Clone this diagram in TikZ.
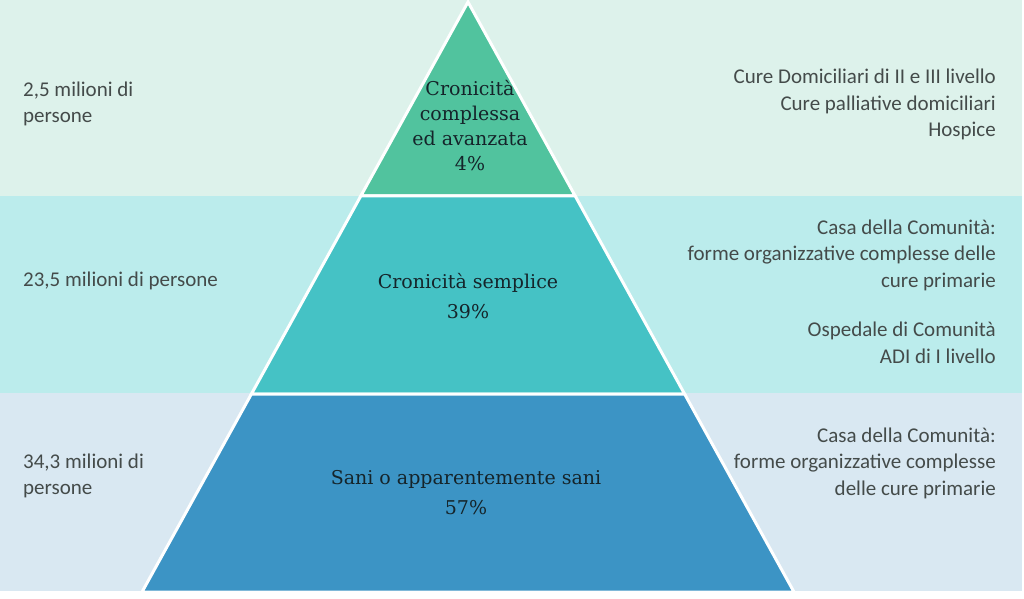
\documentclass[tikz,border=0pt]{standalone}
\usepackage{fontspec}
\setmainfont{Carlito}
\newfontfamily\slab{DejaVu Serif}
\usetikzlibrary{calc}
\definecolor{bandtop}{HTML}{DDF2EB}
\definecolor{bandmid}{HTML}{BBECEC}
\definecolor{bandlow}{HTML}{D9E8F2}
\definecolor{tiertop}{HTML}{51C39E}
\definecolor{tiermid}{HTML}{45C2C5}
\definecolor{tierlow}{HTML}{3C94C5}
\definecolor{sidegrey}{HTML}{444B4A}
\definecolor{tierink}{HTML}{15242A}
\tikzset{
  tier/.style={draw=white, line width=3pt, line join=miter},
  side/.style={text=sidegrey, font=\fontsize{21}{26.5}\selectfont, inner sep=0pt},
  sideleft/.style={side, anchor=west, align=left},
  sideright/.style={side, anchor=east, align=right},
  tiertext/.style={text=tierink, font=\slab\fontsize{19}{25}\selectfont, align=center, inner sep=0pt}
}

\begin{document}
\begin{tikzpicture}[x=1pt,y=-1pt]
  \useasboundingbox (0,0) rectangle (1024,598);
  % bands
  \fill[bandtop] (0,0) rectangle (1022,196);
  \fill[bandmid] (0,196) rectangle (1022,393);
  \fill[bandlow] (0,393) rectangle (1022,591);
  % pyramid corners
  \coordinate (apex) at (468,2);
  \coordinate (bl) at (142,592);
  \coordinate (br) at (794,592);
  \coordinate (tl) at ($(apex)!0.3288!(bl)$);
  \coordinate (tr) at ($(apex)!0.3288!(br)$);
  \coordinate (ml) at ($(apex)!0.6644!(bl)$);
  \coordinate (mr) at ($(apex)!0.6644!(br)$);
  \draw[tier, fill=tiertop] (apex) -- (tr) -- (tl) -- cycle;
  \draw[tier, fill=tiermid] (tl) -- (tr) -- (mr) -- (ml) -- cycle;
  \draw[tier, fill=tierlow] (ml) -- (mr) -- (br) -- (bl) -- cycle;
  % tier labels
  \node[tiertext] (top) at (470,126) {Cronicità\\complessa\\ed avanzata\\4\%};
  \node[tiertext, font=\slab\fontsize{19}{30}\selectfont] (mid) at (468,296) {Cronicità semplice\\39\%};
  \node[tiertext, font=\slab\fontsize{19}{30}\selectfont] (low) at (466,493) {Sani o apparentemente sani\\57\%};
  % left column
  \node[sideleft] (poptop) at (23,104) {2,5 milioni di\\persone};
  \node[sideleft] (popmid) at (23,281) {23,5 milioni di persone};
  \node[sideleft] (poplow) at (23,476) {34,3 milioni di\\persone};
  % right column
  \node[sideright] (caretop) at (996,104.5) {Cure Domiciliari di II e III livello\\Cure palliative domiciliari\\Hospice};
  \node[sideright] (caremid) at (996,291.5) {Casa della Comunità:\\forme organizzative complesse delle\\cure primarie\\[23pt]Ospedale di Comunità\\ADI di I livello};
  \node[sideright] (carelow) at (996,463) {Casa della Comunità:\\forme organizzative complesse\\delle cure primarie};
\end{tikzpicture}
\end{document}
